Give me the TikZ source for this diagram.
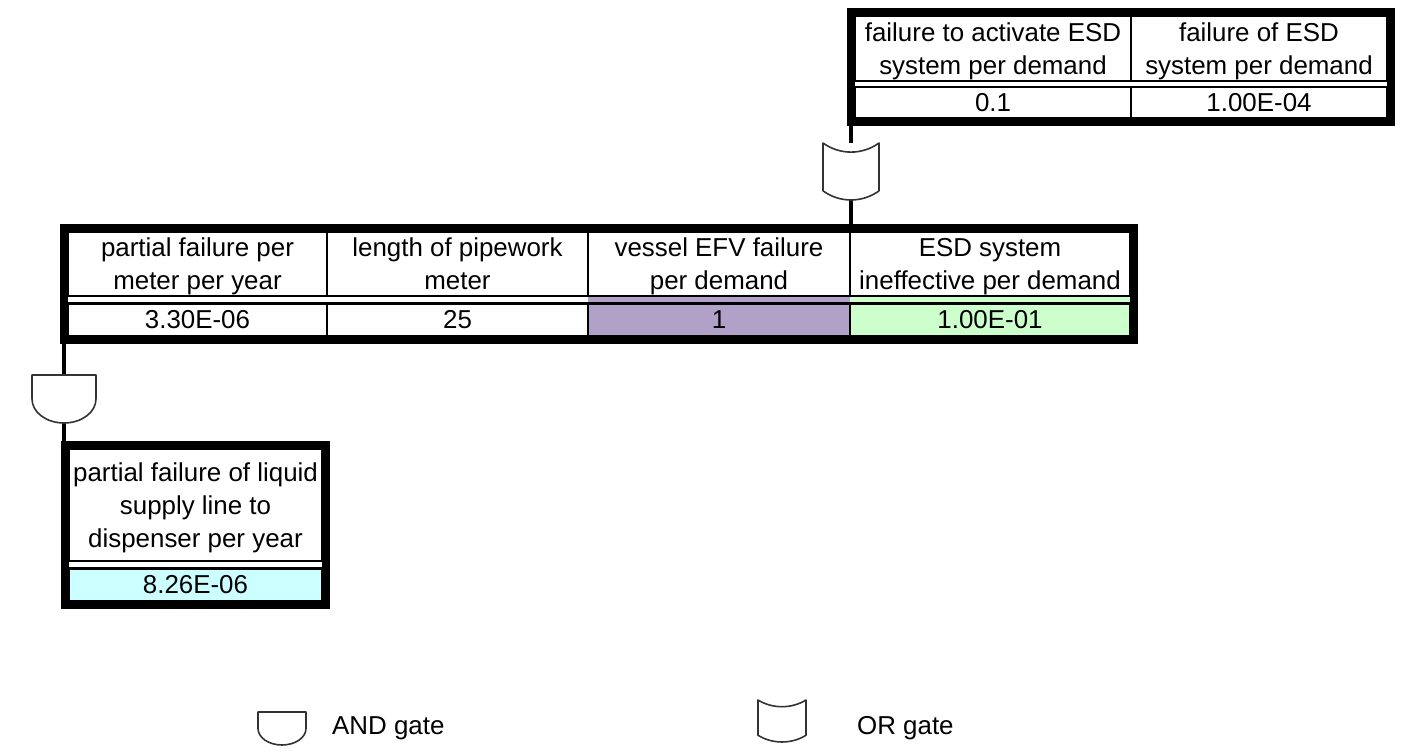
\documentclass[tikz,border=0pt]{standalone}
\usepackage{fontspec}
\setmainfont{Liberation Sans}
\usepackage{xcolor}
\usepackage{tikz}
\usetikzlibrary{positioning, fit, calc, backgrounds}

\definecolor{efvpurple}{HTML}{B1A0C7}
\definecolor{esdgreen}{HTML}{CCFFCC}
\definecolor{resultcyan}{HTML}{CCFFFF}

% gate symbols drawn inside an empty node
\newcommand{\andgate}[1]{%
  \draw[gateline] let \p1=(#1.north west), \p2=(#1.south east),
      \n1={(\x2-\x1)/2}, \n2={(\y1-\y2)/2} in
    (\x1,\y1) -- (\x2,\y1) -- (\x2,\y2+\n2)
    arc[start angle=0, end angle=-180, x radius=\n1, y radius=\n2] -- cycle;}
\newcommand{\orgate}[1]{%
  \draw[gateline] let \p1=(#1.north west), \p2=(#1.south east),
      \n1={\x2-\x1}, \n2={0.16*(\y1-\y2)} in
    (\x1,\y1) .. controls (\x1+0.3*\n1,\y1-1.33*\n2) and (\x2-0.3*\n1,\y1-1.33*\n2) .. (\x2,\y1)
    -- (\x2,\y2+\n2)
    .. controls (\x2-0.3*\n1,\y2-0.33*\n2) and (\x1+0.3*\n1,\y2-0.33*\n2) .. (\x1,\y2+\n2) -- cycle;}

\begin{document}
\begin{tikzpicture}[
        x=1pt, y=1pt,
        cellfont/.style={font=\fontsize{25.9}{33}\selectfont},
        hcell/.style={cellfont, draw, line width=2.5pt, inner sep=0pt, outer sep=0pt, align=center, anchor=north west, text depth=0pt},
        vcell/.style={hcell},
        tablebox/.style={draw, line width=7.5pt, inner sep=4pt, outer sep=0pt},
        gatebox/.style={inner sep=0pt, outer sep=0pt},
        gateline/.style={draw=black!80, fill=white, line width=1.6pt, line join=round},
        stem/.style={line width=3.5pt},
        legtext/.style={cellfont, inner sep=0pt, anchor=base west}
    ]
        \useasboundingbox (0,0) rectangle (1414,-754);

        % ESD table
        \node (t1) [hcell, minimum width=276pt, minimum height=65pt] at (855,-16) {failure to activate ESD\\system per demand};
        \node (t2) [hcell, minimum width=256pt, minimum height=65pt] at (1131,-16) {failure of ESD\\system per demand};
        \node (t1v) [vcell, minimum width=276pt, minimum height=31pt] at (855,-87) {0.1};
        \node (t2v) [vcell, minimum width=256pt, minimum height=31pt] at (1131,-87) {1.00E-04};
        \node (top) [tablebox, fit=(t1)(t2v)] {};

        % Pipework table
        \node (m1) [hcell, minimum width=259pt, minimum height=64pt] at (68,-232) {partial failure per\\meter per year};
        \node (m2) [hcell, minimum width=261pt, minimum height=64pt] at (327,-232) {length of pipework\\meter};
        \node (m3) [hcell, minimum width=262pt, minimum height=64pt] at (588,-232) {vessel EFV failure\\per demand};
        \node (m4) [hcell, minimum width=280pt, minimum height=64pt] at (850,-232) {ESD system\\ineffective per demand};
        \node (m1v) [vcell, minimum width=259pt, minimum height=32.5pt] at (68,-303.5) {3.30E-06};
        \node (m2v) [vcell, minimum width=261pt, minimum height=32.5pt] at (327,-303.5) {25};
        \node (m3v) [vcell, minimum width=262pt, minimum height=32.5pt, fill=efvpurple] at (588,-303.5) {1};
        \node (m4v) [vcell, minimum width=280pt, minimum height=32.5pt, fill=esdgreen] at (850,-303.5) {1.00E-01};
        \node (mid) [tablebox, fit=(m1)(m4v)] {};
        \begin{scope}[on background layer]
            \fill[efvpurple] (m3.south west) rectangle (m3v.north east);
            \fill[esdgreen] (m4.south west) rectangle (m4v.north east);
        \end{scope}

        % Result table
        \node (b1) [hcell, minimum width=253pt, minimum height=112pt] at (69,-449) {partial failure of liquid\\supply line to\\dispenser per year};
        \node (b1v) [vcell, minimum width=253pt, minimum height=32.5pt, fill=resultcyan] at (69,-568.5) {8.26E-06};
        \node (bot) [tablebox, fit=(b1)(b1v)] {};

        % Gates
        \node (org) [gatebox, minimum width=56pt, minimum height=57pt, below=21pt of top.south west] {};
        \node (andg) [gatebox, minimum width=64pt, minimum height=48pt, below=35pt of mid.south west] {};

        \draw [stem] (top.south west) -- (org.north);
        \draw [stem] (org.south) -- (org.south |- mid.north);
        \draw [stem] (mid.south west) -- (andg.north);
        \draw [stem] (andg.south) -- (andg.south |- bot.north);
        \orgate{org}
        \andgate{andg}

        % Legend
        \node (legand) [gatebox, minimum width=48pt, minimum height=33pt] at (282,-728.5) {};
        \node (legor) [gatebox, minimum width=48pt, minimum height=42pt] at (782,-721) {};
        \andgate{legand}
        \orgate{legor}
        \node (legandtxt) [legtext] at (332,-734) {AND gate};
        \node (legortxt) [legtext] at (857,-734) {OR gate};

    \end{tikzpicture}
\end{document}
